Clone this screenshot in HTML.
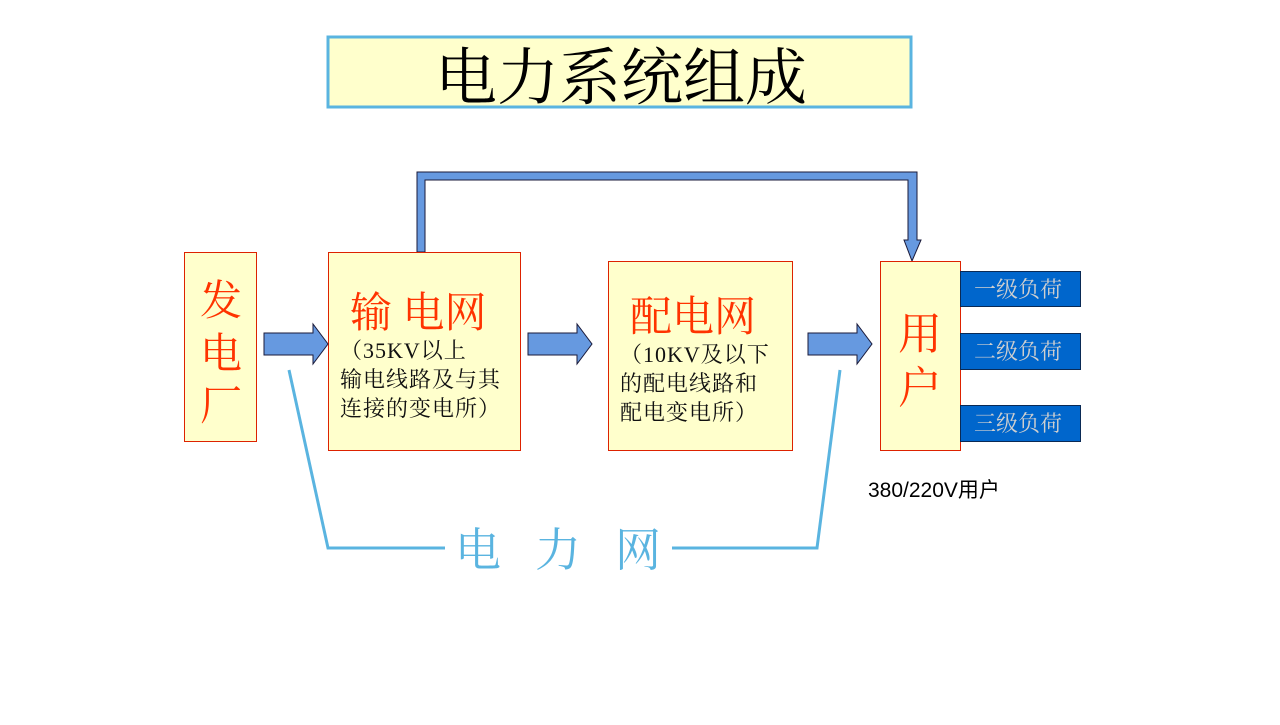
<!DOCTYPE html>
<html><head><meta charset="utf-8"><style>
body{margin:0;background:#fff;}
svg text{font-family:"Liberation Serif","Noto Serif CJK SC","Noto Sans CJK SC",serif;}
</style></head><body>
<svg width="1280" height="720" viewBox="0 0 1280 720" xmlns="http://www.w3.org/2000/svg">
<rect x="328" y="37" width="583" height="70" fill="#ffffcc" stroke="#5ab4e0" stroke-width="3"/>
<text x="621" y="99" font-size="62" text-anchor="middle" fill="#000">电力系统组成</text>

<path d="M417,252 V172 H917 V240 H921 L912,261 L904,240 H908 V180 H425 V252 Z" fill="#6699e0" stroke="#1a1a3a" stroke-width="1"/>

<rect x="184.5" y="252.5" width="72" height="189" fill="#ffffcc" stroke="#dd2200"/>
<g fill="#ff3300" font-size="42" text-anchor="middle">
<text x="221" y="315">发</text><text x="221" y="368">电</text><text x="221" y="420">厂</text></g>

<rect x="328.5" y="252.5" width="192" height="198" fill="#ffffcc" stroke="#dd2200"/>
<text x="350" y="327" font-size="42" fill="#ff3300">输 电网</text>
<g font-size="22" fill="#111" letter-spacing="1"><text x="340" y="358">（35KV以上</text><text x="340" y="387">输电线路及与其</text><text x="340" y="416">连接的变电所）</text></g>

<rect x="608.5" y="261.5" width="184" height="189" fill="#ffffcc" stroke="#dd2200"/>
<text x="630" y="331" font-size="42" fill="#ff3300">配电网</text>
<g font-size="22" fill="#111" letter-spacing="1"><text x="620" y="362">（10KV及以下</text><text x="620" y="391">的配电线路和</text><text x="620" y="420">配电变电所）</text></g>

<rect x="880.5" y="261.5" width="80" height="189" fill="#ffffcc" stroke="#dd2200"/>
<g fill="#ff3300" font-size="44" text-anchor="middle"><text x="920" y="349">用</text><text x="920" y="403">户</text></g>

<g fill="#0066cc" stroke="#0a2a55">
<rect x="960.5" y="271.5" width="120" height="35"/>
<rect x="960.5" y="333.5" width="120" height="36"/>
<rect x="960.5" y="405.5" width="120" height="36"/></g>
<g fill="#cfcfcf" font-size="22" text-anchor="middle">
<text x="1018" y="297">一级负荷</text><text x="1018" y="359">二级负荷</text><text x="1018" y="431">三级负荷</text></g>

<g fill="#6699e0" stroke="#1a1a3a" stroke-width="1">
<path d="M264,333 H313 V324 L328,344 L313,364 V355 H264 Z"/>
<path d="M528,333 H577 V324 L592,344 L577,364 V355 H528 Z"/>
<path d="M808,333 H857 V324 L872,344 L857,364 V355 H808 Z"/>
</g>

<path d="M289,370 L328,548 H445 M672,548 H817 L840,370" fill="none" stroke="#5ab4e0" stroke-width="3"/>
<text x="455" y="566" font-size="46" fill="#5ab4e0" letter-spacing="34">电力网</text>

<text x="868" y="497" font-size="21" fill="#000" style="font-family:'Liberation Sans','Noto Sans CJK SC',sans-serif">380/220V用户</text>
</svg>
</body></html>
